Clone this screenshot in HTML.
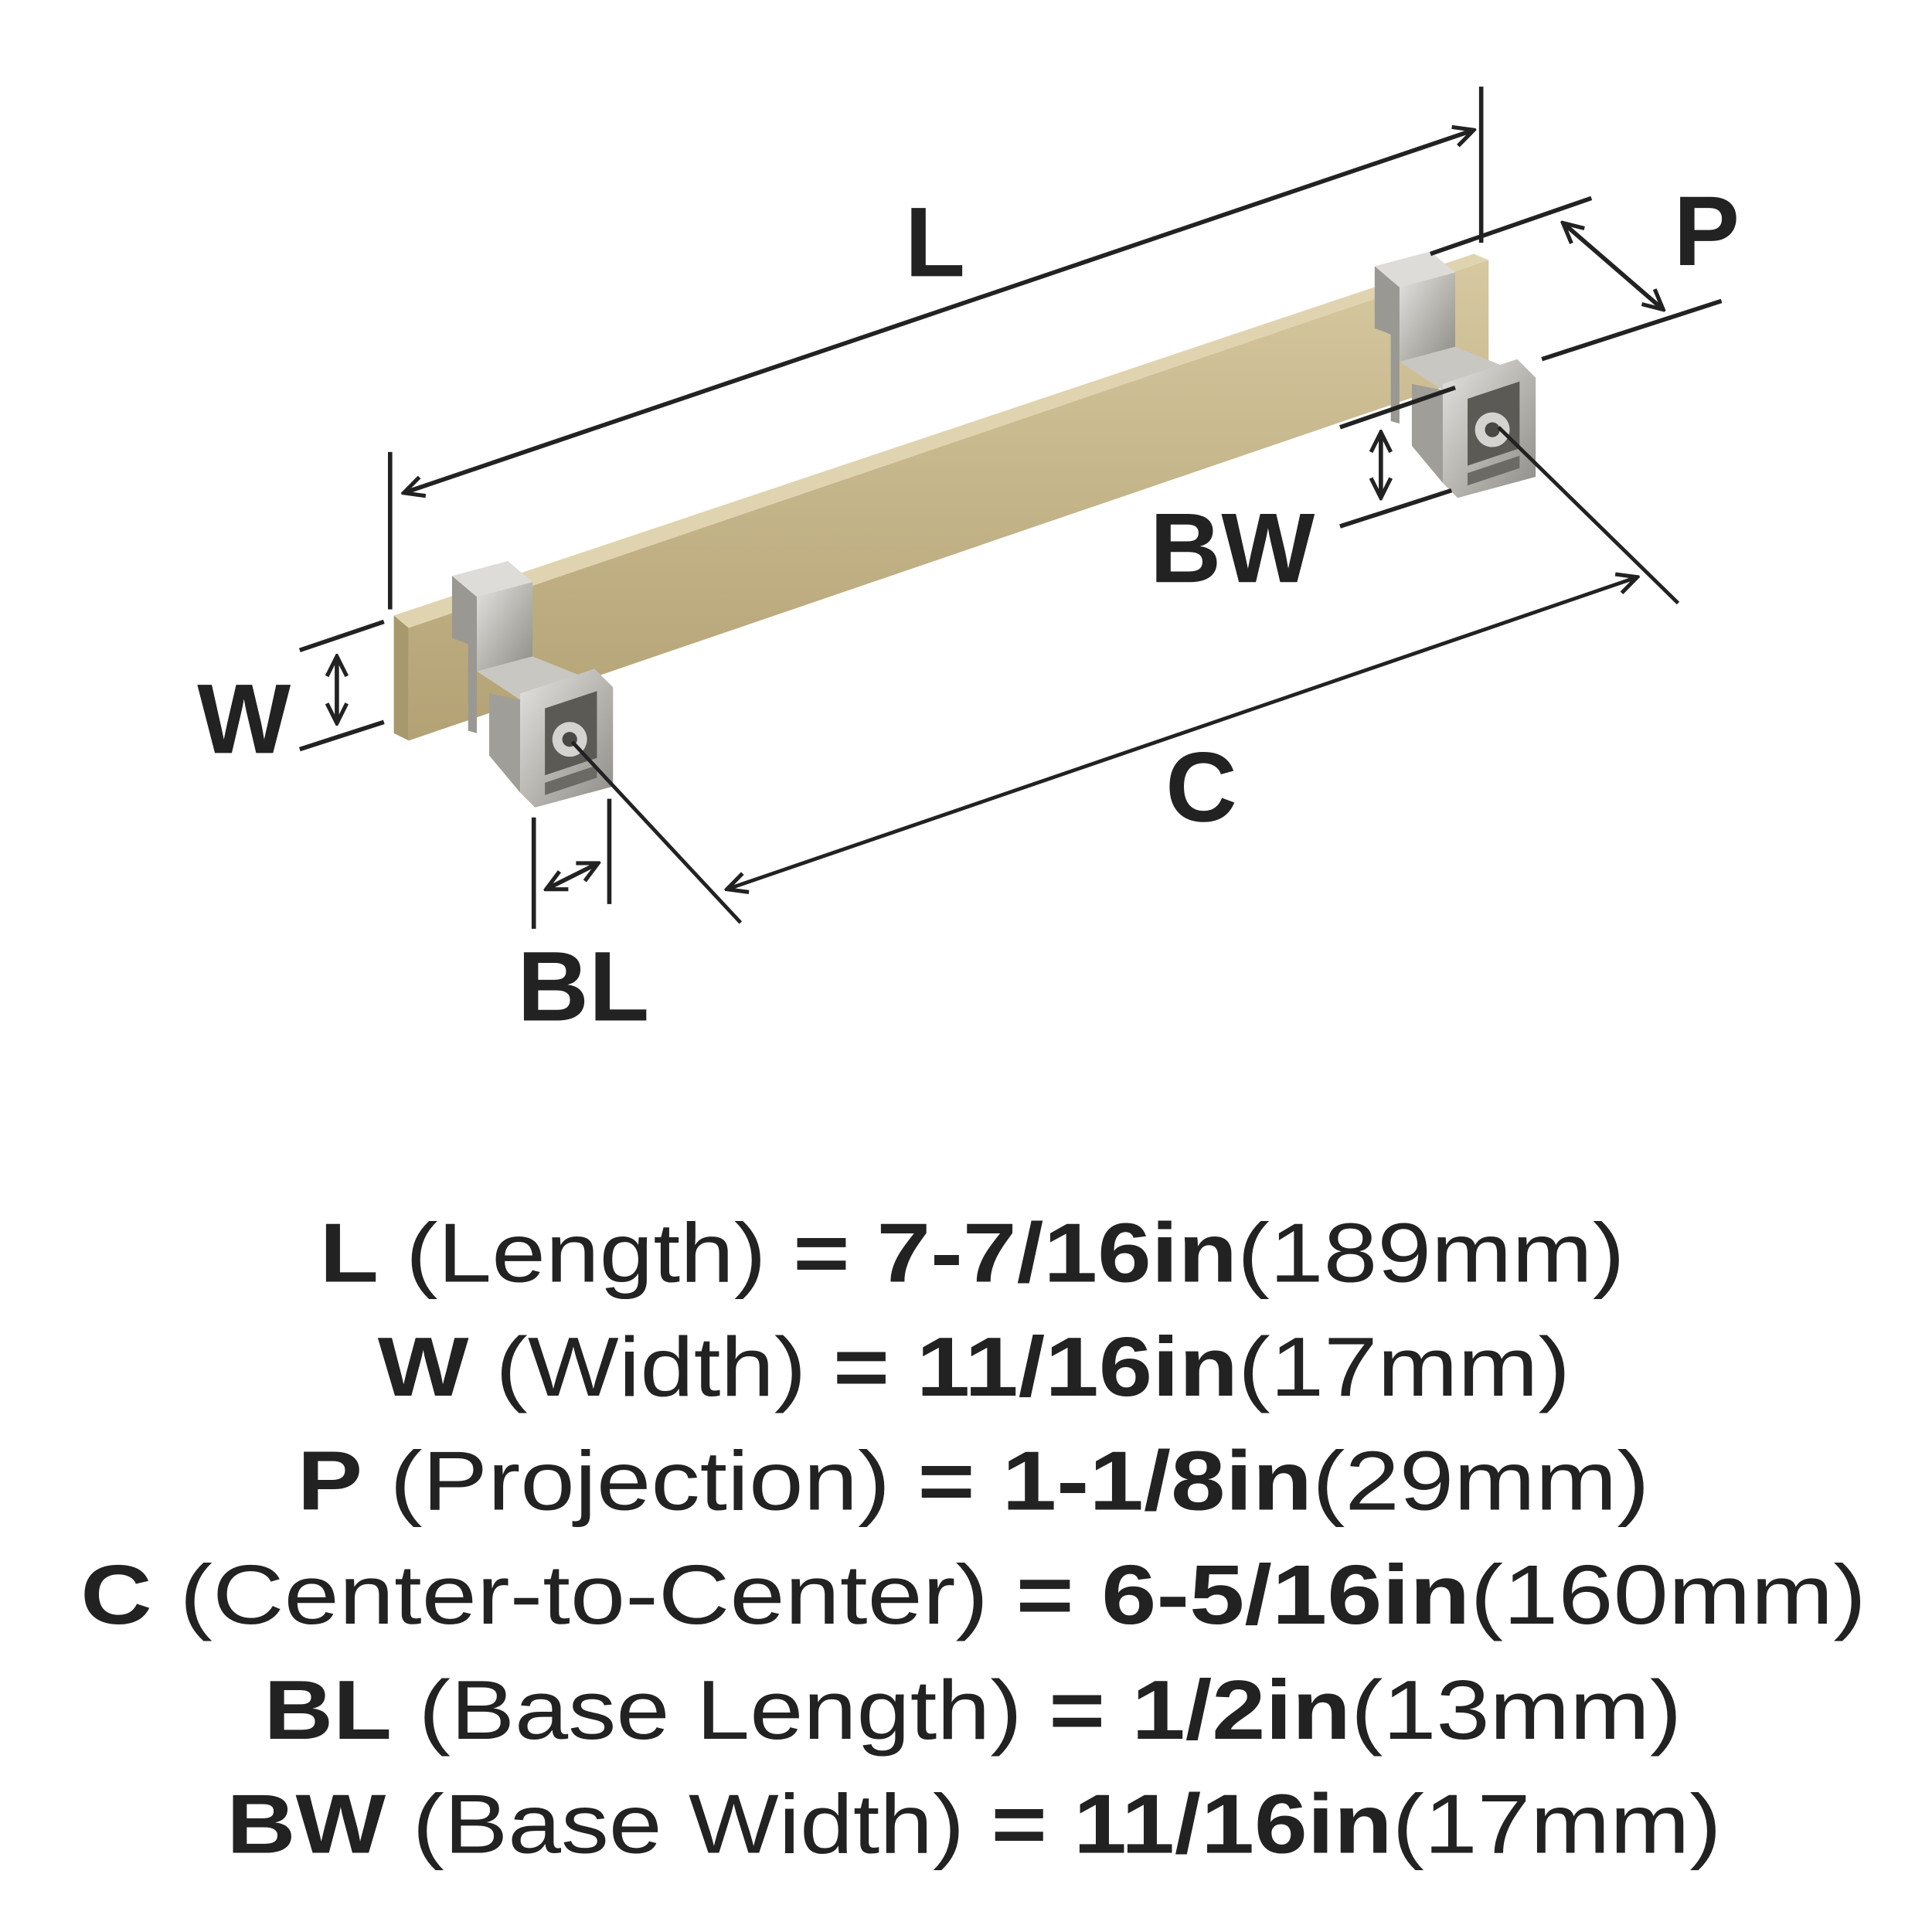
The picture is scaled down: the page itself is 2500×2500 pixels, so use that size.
<!DOCTYPE html>
<html><head><meta charset="utf-8"><style>html,body{margin:0;padding:0;background:#fff}svg{display:block}</style></head>
<body>
<svg width="2500" height="2500" viewBox="0 0 1560 1560" xmlns="http://www.w3.org/2000/svg">
<defs>
<linearGradient id="brass" x1="0" y1="0" x2="0" y2="1">
<stop offset="0" stop-color="#d6c8a0"/><stop offset="0.5" stop-color="#c4b489"/><stop offset="1" stop-color="#b3a274"/></linearGradient>
<linearGradient id="steel" x1="0" y1="0" x2="1" y2="1">
<stop offset="0" stop-color="#e4e3e0"/><stop offset="0.5" stop-color="#b9b7b2"/><stop offset="1" stop-color="#8f8d88"/></linearGradient>
<marker id="arL" markerWidth="20" markerHeight="20" refX="18" refY="10" orient="auto-start-reverse" markerUnits="userSpaceOnUse" viewBox="0 0 20 20">
<path d="M2,2 L18,10 L2,18" fill="none" stroke="#222" stroke-width="3.2"/></marker>
<g id="post">
<polygon points="365,465 410,453 430,470 385,482" fill="#dddcd8"/>
<polygon points="385,482 430,470 430,530 385,542" fill="url(#steel)"/>
<polygon points="365,465 385,482 385,592 378,590 378,520 365,515" fill="#9a9893"/>
<polygon points="385,542 430,530 475,548 420,565" fill="#c9c7c2"/>
<polygon points="395,560 420,565 420,640 395,610" fill="#a09e98"/>
<polygon points="420,560 480,540 495,555 495,635 432,652 420,640" fill="url(#steel)"/>
<polygon points="440,572 482,558 482,612 440,626" fill="#5c5a55"/>
<polygon points="440,632 482,618 482,628 440,642" fill="#6c6a65"/>
<circle cx="460" cy="597" r="14" fill="#d4d3cf"/>
<circle cx="460" cy="597" r="6" fill="#4a4844"/>
</g>
</defs>
<polygon points="318,497 1190,205 1202,210 330,507" fill="#e0d4b0"/>
<polygon points="330,507 1202,210 1202,300 330,598" fill="url(#brass)"/>
<polygon points="318,497 330,507 330,598 318,592" fill="#a8996c"/>
<use href="#post"/>
<use href="#post" transform="translate(745,-250)"/>
<g stroke="#222" stroke-width="3.5" fill="none">
<line x1="315" y1="365" x2="315" y2="492"/>
<line x1="1196" y1="70" x2="1196" y2="196"/>
<line x1="326" y1="398" x2="1190" y2="105" marker-start="url(#arL)" marker-end="url(#arL)"/>
<line x1="1155" y1="205" x2="1285" y2="160"/>
<line x1="1245" y1="290" x2="1390" y2="243"/>
<line x1="1262" y1="180" x2="1343" y2="250" marker-start="url(#arL)" marker-end="url(#arL)"/>
<line x1="242" y1="525" x2="310" y2="502"/>
<line x1="242" y1="605" x2="310" y2="583"/>
<line x1="272" y1="530" x2="272" y2="584" marker-start="url(#arL)" marker-end="url(#arL)"/>
<line x1="1082" y1="345" x2="1175" y2="313"/>
<line x1="1082" y1="425" x2="1172" y2="396"/>
<line x1="1115" y1="349" x2="1115" y2="402" marker-start="url(#arL)" marker-end="url(#arL)"/>
<line x1="431" y1="660" x2="431" y2="750"/>
<line x1="492" y1="645" x2="492" y2="730"/>
<line x1="441" y1="718" x2="483" y2="697" marker-start="url(#arL)" marker-end="url(#arL)"/>
<line x1="587" y1="718" x2="1322" y2="466" stroke-width="3" marker-start="url(#arL)" marker-end="url(#arL)"/>
<line x1="462" y1="599" x2="598" y2="745" stroke-width="3"/>
<line x1="1210" y1="345" x2="1355" y2="487" stroke-width="3"/>
</g>
<g font-family="Liberation Sans, sans-serif" font-weight="bold" fill="#222" font-size="80" text-anchor="middle">
<text x="755" y="223">L</text>
<text x="1378" y="214">P</text>
<text x="995" y="470">BW</text>
<text x="197" y="608">W</text>
<text x="970" y="663">C</text>
<text x="471" y="824">BL</text>
</g>
<g font-family="Liberation Sans, sans-serif" fill="#222" font-size="68">
<text x="258" y="1035" textLength="1054" lengthAdjust="spacingAndGlyphs"><tspan font-weight="bold">L</tspan> (Length) <tspan font-weight="bold">= 7-7/16in</tspan>(189mm)</text>
<text x="305" y="1127" textLength="963" lengthAdjust="spacingAndGlyphs"><tspan font-weight="bold">W</tspan> (Width) <tspan font-weight="bold">= 11/16in</tspan>(17mm)</text>
<text x="240" y="1219" textLength="1092" lengthAdjust="spacingAndGlyphs"><tspan font-weight="bold">P</tspan> (Projection) <tspan font-weight="bold">= 1-1/8in</tspan>(29mm)</text>
<text x="65" y="1311" textLength="1442" lengthAdjust="spacingAndGlyphs"><tspan font-weight="bold">C</tspan> (Center-to-Center) <tspan font-weight="bold">= 6-5/16in</tspan>(160mm)</text>
<text x="213" y="1404" textLength="1145" lengthAdjust="spacingAndGlyphs"><tspan font-weight="bold">BL</tspan> (Base Length) <tspan font-weight="bold">= 1/2in</tspan>(13mm)</text>
<text x="183" y="1496" textLength="1207" lengthAdjust="spacingAndGlyphs"><tspan font-weight="bold">BW</tspan> (Base Width) <tspan font-weight="bold">= 11/16in</tspan>(17mm)</text>
</g>
</svg>
</body></html>
